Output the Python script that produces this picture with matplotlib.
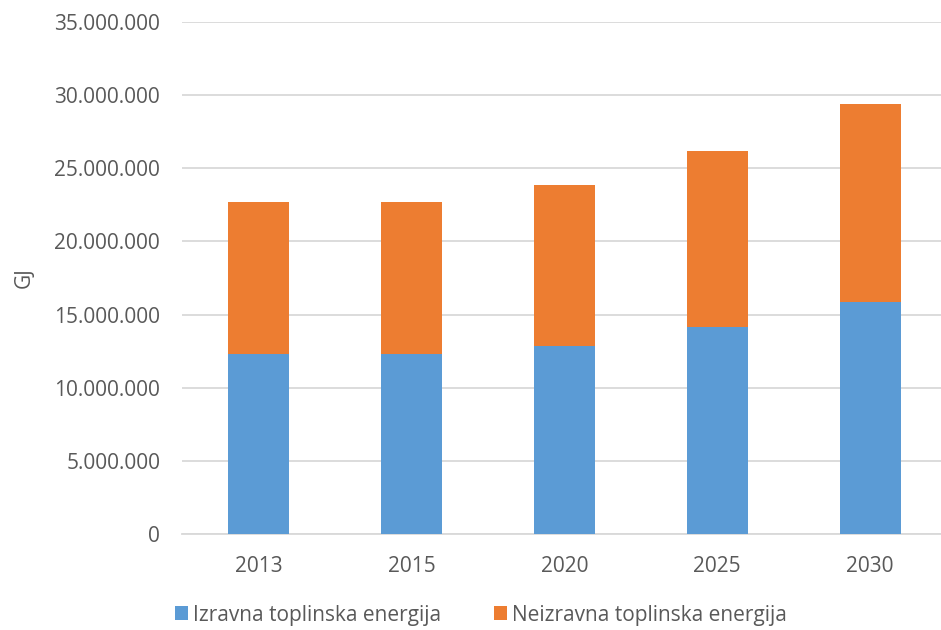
import matplotlib
matplotlib.use("Agg")
import matplotlib.pyplot as plt
from matplotlib.ticker import FuncFormatter, MultipleLocator

plt.rcParams['font.family'] = ['Open Sans', 'DejaVu Sans']

years = ["2013", "2015", "2020", "2025", "2030"]
izravna = [12290000, 12280000, 12860000, 14140000, 15890000]
ukupno = [22720000, 22720000, 23840000, 26160000, 29410000]
neizravna = [t - d for t, d in zip(ukupno, izravna)]

blue = "#5B9BD5"
orange = "#ED7D31"
grey = "#595959"
grid = "#D9D9D9"

fig = plt.figure(figsize=(9.41, 6.3), dpi=100)
ax = fig.add_axes([0.1938, 0.1524, 0.8121, 0.8127])

x = range(len(years))
b1 = ax.bar(x, izravna, width=0.4, color=blue, label="Izravna toplinska energija", zorder=3)
b2 = ax.bar(x, neizravna, width=0.4, bottom=izravna, color=orange,
            label="Neizravna toplinska energija", zorder=3)

ax.set_xlim(-0.5, len(years) - 0.5)
ax.set_ylim(0, 35000000)
ax.yaxis.set_major_locator(MultipleLocator(5000000))
ax.yaxis.set_major_formatter(FuncFormatter(lambda v, p: f"{int(v):,}".replace(",", ".")))
ax.set_xticks(list(x))
ax.set_xticklabels(years)

ax.grid(axis='y', color=grid, linewidth=1.3, zorder=0)
for s in ["top", "right", "left"]:
    ax.spines[s].set_visible(False)
ax.spines["bottom"].set_color(grid)
ax.spines["bottom"].set_linewidth(1.3)
ax.tick_params(axis='both', length=0, labelsize=15, colors=grey)
ax.tick_params(axis='x', pad=16)
ax.tick_params(axis='y', pad=16)

ax.set_ylabel("GJ", fontsize=15, color=grey)
ax.yaxis.set_label_coords(-0.193, 0.5)

fig.legend(handles=[b1, b2], loc='center', bbox_to_anchor=(481 / 941, 1 - 615 / 630),
           ncol=2, frameon=False, fontsize=15, labelcolor=grey,
           handlelength=0.65, handleheight=0.65, handletextpad=0.25, columnspacing=2.5)

fig.savefig("out.png", dpi=100)
